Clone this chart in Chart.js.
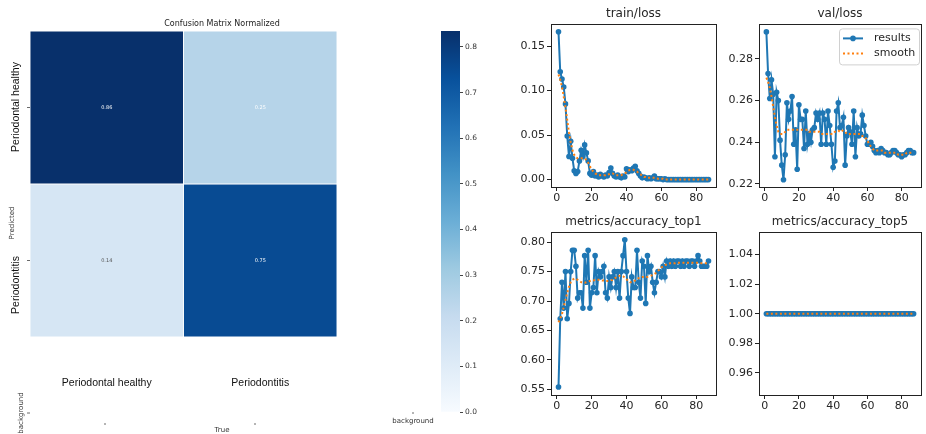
<!DOCTYPE html>
<html lang="en">
  <head>
    <meta charset="UTF-8" />
    <title>Training results</title>
    <script src="https://cdn.jsdelivr.net/npm/chart.js"></script>
    <style>
      html,
      body {
        margin: 0;
        padding: 0;
        background: #fff;
      }
      #wrap {
        position: relative;
        width: 926px;
        height: 434px;
        overflow: hidden;
      }
      canvas {
        position: absolute;
      }
    </style>
  </head>
  <body>
    <div id="wrap">
      <canvas id="cm" width="445" height="434" style="left:0;top:0"></canvas>
      <canvas id="cb" width="60" height="434" style="left:430px;top:0"></canvas>
      <canvas id="trainLoss" width="220" height="210" style="left:500px;top:0"></canvas>
      <canvas id="valLoss" width="218" height="210" style="left:708px;top:0"></canvas>
      <canvas id="top1" width="220" height="210" style="left:500px;top:208px"></canvas>
      <canvas id="top5" width="218" height="210" style="left:708px;top:208px"></canvas>
    </div>

    <script>
      // Confusion matrix (rows = predicted, columns = true)
      const predLabels = ["Periodontal healthy", "Periodontitis"];
      const trueLabels = ["Periodontal healthy", "Periodontitis"];
      const matrix = [
        [0.86, 0.25],
        [0.14, 0.75],
      ];
      const cbTicks = [0.0, 0.1, 0.2, 0.3, 0.4, 0.5, 0.6, 0.7, 0.8];
      const cbRange = [0, 0.835];

      // Training curves
      const epochs = [
        1, 2, 3, 4, 5, 6, 7, 8, 9, 10, 11, 12, 13, 14, 15, 16, 17, 18, 19, 20,
        21, 22, 23, 24, 25, 26, 27, 28, 29, 30, 31, 32, 33, 34, 35, 36, 37, 38, 39, 40,
        41, 42, 43, 44, 45, 46, 47, 48, 49, 50, 51, 52, 53, 54, 55, 56, 57, 58, 59, 60,
        61, 62, 63, 64, 65, 66, 67, 68, 69, 70, 71, 72, 73, 74, 75, 76, 77, 78, 79, 80,
        81, 82, 83, 84, 85, 86, 87,
      ];
      const xTicks = [0, 20, 40, 60, 80];

      const trainLoss = [
        0.166, 0.121, 0.113, 0.104, 0.085, 0.049, 0.026, 0.043, 0.024, 0.010,
        0.007, 0.009, 0.021, 0.033, 0.026, 0.039, 0.030, 0.021, 0.007, 0.005,
        0.009, 0.004, 0.005, 0.003, 0.006, 0.004, 0.003, 0.005, 0.004, 0.008,
        0.013, 0.007, 0.004, 0.003, 0.005, 0.003, 0.002, 0.004, 0.003, 0.012,
        0.009, 0.011, 0.010, 0.013, 0.015, 0.010, 0.007, 0.004, 0.002, 0.003,
        0.002, 0.001, 0.002, 0.001, 0.002, 0.004, 0.001, 0.001, 0.001, 0.001,
        0.000, 0.001, 0.000, 0.000, 0.000, 0.000, 0.000, 0.000, 0.000, 0.000,
        0.000, 0.000, 0.000, 0.000, 0.000, 0.000, 0.000, 0.000, 0.000, 0.000,
        0.000, 0.000, 0.000, 0.000, 0.000, 0.000, 0.000,
      ];
      const trainSmooth = [
        0.118, 0.112, 0.104, 0.093, 0.081, 0.067, 0.053, 0.042, 0.033, 0.028,
        0.025, 0.024, 0.024, 0.024, 0.024, 0.024, 0.022, 0.019, 0.015, 0.011,
        0.009, 0.007, 0.006, 0.005, 0.005, 0.005, 0.005, 0.005, 0.006, 0.006,
        0.007, 0.007, 0.006, 0.005, 0.005, 0.005, 0.005, 0.006, 0.007, 0.008,
        0.010, 0.011, 0.011, 0.011, 0.010, 0.009, 0.007, 0.006, 0.004, 0.003,
        0.003, 0.002, 0.002, 0.002, 0.002, 0.002, 0.002, 0.001, 0.001, 0.001,
        0.001, 0.000, 0.000, 0.000, 0.000, 0.000, 0.000, 0.000, 0.000, 0.000,
        0.000, 0.000, 0.000, 0.000, 0.000, 0.000, 0.000, 0.000, 0.000, 0.000,
        0.000, 0.000, 0.000, 0.000, 0.000, 0.000, 0.000,
      ];

      const valLoss = [
        0.293, 0.273, 0.261, 0.270, 0.263, 0.233, 0.264, 0.260, 0.241, 0.229,
        0.222, 0.234, 0.259, 0.251, 0.255, 0.262, 0.239, 0.246, 0.227, 0.258,
        0.251, 0.251, 0.237, 0.255, 0.239, 0.244, 0.240, 0.246, 0.247, 0.254,
        0.251, 0.254, 0.239, 0.254, 0.251, 0.239, 0.255, 0.248, 0.239, 0.228,
        0.231, 0.255, 0.259, 0.247, 0.248, 0.252, 0.229, 0.243, 0.247, 0.245,
        0.239, 0.255, 0.233, 0.247, 0.243, 0.244, 0.253, 0.248, 0.243, 0.239,
        0.239, 0.240, 0.238, 0.236, 0.235, 0.236, 0.235, 0.237, 0.236, 0.235,
        0.235, 0.234, 0.234, 0.235, 0.236, 0.236, 0.235, 0.234, 0.234, 0.233,
        0.234, 0.234, 0.235, 0.236, 0.236, 0.235, 0.235,
      ];
      const valSmooth = [
        0.271, 0.269, 0.266, 0.262, 0.257, 0.252, 0.248, 0.245, 0.244, 0.244,
        0.244, 0.245, 0.246, 0.246, 0.246, 0.246, 0.246, 0.246, 0.246, 0.246,
        0.246, 0.246, 0.246, 0.246, 0.246, 0.245, 0.245, 0.245, 0.245, 0.245,
        0.245, 0.245, 0.244, 0.244, 0.244, 0.244, 0.244, 0.244, 0.244, 0.244,
        0.245, 0.245, 0.245, 0.246, 0.246, 0.245, 0.245, 0.244, 0.244, 0.244,
        0.244, 0.244, 0.244, 0.244, 0.244, 0.244, 0.243, 0.243, 0.242, 0.241,
        0.239, 0.238, 0.237, 0.236, 0.236, 0.236, 0.236, 0.236, 0.236, 0.235,
        0.235, 0.235, 0.235, 0.235, 0.235, 0.235, 0.235, 0.234, 0.234, 0.234,
        0.234, 0.234, 0.235, 0.235, 0.235, 0.235, 0.235,
      ];

      const accTop1 = [
        0.554, 0.670, 0.732, 0.688, 0.750, 0.670, 0.696, 0.750, 0.786, 0.786,
        0.759, 0.705, 0.714, 0.714, 0.688, 0.777, 0.732, 0.786, 0.688, 0.714,
        0.723, 0.777, 0.714, 0.750, 0.741, 0.750, 0.759, 0.714, 0.705, 0.741,
        0.723, 0.741, 0.750, 0.723, 0.750, 0.705, 0.750, 0.777, 0.804, 0.750,
        0.705, 0.679, 0.741, 0.723, 0.723, 0.786, 0.732, 0.705, 0.768, 0.759,
        0.696, 0.777, 0.750, 0.759, 0.732, 0.714, 0.732, 0.750, 0.750, 0.741,
        0.759, 0.741, 0.768, 0.759, 0.768, 0.759, 0.768, 0.759, 0.768, 0.768,
        0.759, 0.768, 0.759, 0.768, 0.768, 0.759, 0.768, 0.768, 0.759, 0.768,
        0.777, 0.768, 0.759, 0.759, 0.759, 0.759, 0.768,
      ];
      const top1Smooth = [
        0.664, 0.670, 0.678, 0.690, 0.702, 0.714, 0.724, 0.732, 0.736, 0.738,
        0.738, 0.736, 0.734, 0.732, 0.731, 0.731, 0.732, 0.733, 0.734, 0.735,
        0.735, 0.736, 0.736, 0.736, 0.736, 0.735, 0.735, 0.734, 0.734, 0.734,
        0.735, 0.736, 0.738, 0.740, 0.742, 0.743, 0.743, 0.742, 0.740, 0.737,
        0.734, 0.732, 0.732, 0.733, 0.735, 0.737, 0.739, 0.740, 0.741, 0.741,
        0.741, 0.741, 0.742, 0.743, 0.744, 0.746, 0.748, 0.751, 0.754, 0.757,
        0.759, 0.761, 0.762, 0.763, 0.764, 0.764, 0.764, 0.764, 0.765, 0.765,
        0.765, 0.765, 0.765, 0.765, 0.765, 0.765, 0.765, 0.765, 0.765, 0.765,
        0.765, 0.765, 0.764, 0.764, 0.764, 0.764, 0.764,
      ];

      const accTop5 = [
        1.0, 1.0, 1.0, 1.0, 1.0, 1.0, 1.0, 1.0, 1.0, 1.0,
        1.0, 1.0, 1.0, 1.0, 1.0, 1.0, 1.0, 1.0, 1.0, 1.0,
        1.0, 1.0, 1.0, 1.0, 1.0, 1.0, 1.0, 1.0, 1.0, 1.0,
        1.0, 1.0, 1.0, 1.0, 1.0, 1.0, 1.0, 1.0, 1.0, 1.0,
        1.0, 1.0, 1.0, 1.0, 1.0, 1.0, 1.0, 1.0, 1.0, 1.0,
        1.0, 1.0, 1.0, 1.0, 1.0, 1.0, 1.0, 1.0, 1.0, 1.0,
        1.0, 1.0, 1.0, 1.0, 1.0, 1.0, 1.0, 1.0, 1.0, 1.0,
        1.0, 1.0, 1.0, 1.0, 1.0, 1.0, 1.0, 1.0, 1.0, 1.0,
        1.0, 1.0, 1.0, 1.0, 1.0, 1.0, 1.0,
      ];
      const top5Smooth = [
        1.0, 1.0, 1.0, 1.0, 1.0, 1.0, 1.0, 1.0, 1.0, 1.0,
        1.0, 1.0, 1.0, 1.0, 1.0, 1.0, 1.0, 1.0, 1.0, 1.0,
        1.0, 1.0, 1.0, 1.0, 1.0, 1.0, 1.0, 1.0, 1.0, 1.0,
        1.0, 1.0, 1.0, 1.0, 1.0, 1.0, 1.0, 1.0, 1.0, 1.0,
        1.0, 1.0, 1.0, 1.0, 1.0, 1.0, 1.0, 1.0, 1.0, 1.0,
        1.0, 1.0, 1.0, 1.0, 1.0, 1.0, 1.0, 1.0, 1.0, 1.0,
        1.0, 1.0, 1.0, 1.0, 1.0, 1.0, 1.0, 1.0, 1.0, 1.0,
        1.0, 1.0, 1.0, 1.0, 1.0, 1.0, 1.0, 1.0, 1.0, 1.0,
        1.0, 1.0, 1.0, 1.0, 1.0, 1.0, 1.0,
      ];

      Chart.defaults.font.family = "DejaVu Sans";
      Chart.defaults.color = "#262626";

      // matplotlib "Blues" colormap
      const bluesStops = ["#f7fbff", "#deebf7", "#c6dbef", "#9ecae1", "#6baed6", "#4292c6", "#2171b5", "#08519c", "#08306b"];
      function hexRgb(h) {
        return [1, 3, 5].map((i) => parseInt(h.substr(i, 2), 16));
      }
      function blues(t) {
        t = Math.max(0, Math.min(1, t));
        const p = t * (bluesStops.length - 1);
        const i = Math.min(Math.floor(p), bluesStops.length - 2);
        const f = p - i;
        const a = hexRgb(bluesStops[i]);
        const b = hexRgb(bluesStops[i + 1]);
        const c = a.map((v, k) => Math.round(v + (b[k] - v) * f));
        return "rgb(" + c.join(",") + ")";
      }

      // ---- Confusion matrix ----
      const cmText = {
        id: "cmText",
        afterDraw(chart) {
          const ctx = chart.ctx;
          const yS = chart.scales.y;
          ctx.save();
          ctx.fillStyle = "#222";
          ctx.textAlign = "center";
          ctx.textBaseline = "middle";
          ctx.font = "8px 'DejaVu Sans'";
          ctx.fillText("Confusion Matrix Normalized", 222, 24);

          // cell values
          ctx.font = "5px 'DejaVu Sans'";
          matrix.forEach((row, r) => {
            const meta = chart.getDatasetMeta(r);
            row.forEach((v, c) => {
              const p = meta.data[c].getCenterPoint();
              ctx.fillStyle = v >= 0.2 ? "#fff" : "#555";
              ctx.fillText(v.toFixed(2), p.x, p.y);
            });
          });

          // row labels (rotated)
          const rowLabelY = [107, 285];
          ctx.fillStyle = "#111";
          ctx.font = "10.5px 'Liberation Sans'";
          predLabels.forEach((lab, r) => {
            ctx.save();
            ctx.translate(16, rowLabelY[r]);
            ctx.rotate(-Math.PI / 2);
            ctx.fillText(lab, 0, 0);
            ctx.restore();
          });
          ctx.font = "7px 'DejaVu Sans'";
          ctx.fillStyle = "#333";
          [["Predicted", 12, 223], ["background", 21, 413]].forEach(([t, x, y]) => {
            ctx.save();
            ctx.translate(x, y);
            ctx.rotate(-Math.PI / 2);
            ctx.fillText(t, 0, 0);
            ctx.restore();
          });
          ctx.fillText("True", 222, 430);
          ctx.fillText("background", 413, 421);

          // small tick marks
          ctx.strokeStyle = "#444";
          ctx.lineWidth = 0.8;
          ctx.beginPath();
          predLabels.forEach((lab, r) => {
            const y = yS.getPixelForValue(r + 0.5);
            ctx.moveTo(27, y);
            ctx.lineTo(30, y);
          });
          ctx.moveTo(27, 413);
          ctx.lineTo(30, 413);
          [105, 255].forEach((x) => {
            ctx.moveTo(x - 1, 424);
            ctx.lineTo(x + 1, 424);
          });
          ctx.moveTo(412, 413);
          ctx.lineTo(414, 413);
          ctx.stroke();
          ctx.restore();
        },
      };

      new Chart(document.getElementById("cm"), {
        type: "bar",
        data: {
          labels: trueLabels,
          datasets: predLabels.map((p, r) => ({
            label: p,
            data: matrix[r].map(() => [r, r + 1]),
            backgroundColor: matrix[r].map((v) => blues(v / cbRange[1])),
            borderColor: "#fff",
            borderWidth: 0.8,
            borderSkipped: false,
            grouped: false,
            barPercentage: 1,
            categoryPercentage: 1,
          })),
        },
        options: {
          responsive: false,
          animation: false,
          layout: { padding: { left: 30, top: 31, right: 108, bottom: 0 } },
          scales: {
            x: {
              grid: { display: false, drawTicks: false },
              border: { display: false },
              ticks: { padding: 40, color: "#111", font: { family: "Liberation Sans", size: 10.5 } },
              afterFit: (s) => {
                s.height = 97;
              },
            },
            y: { display: false, reverse: true, min: 0, max: 2 },
          },
          plugins: { legend: { display: false }, tooltip: { enabled: false } },
        },
        plugins: [cmText],
      });

      // ---- Colour bar ----
      new Chart(document.getElementById("cb"), {
        type: "bar",
        data: {
          labels: [""],
          datasets: [
            {
              data: [[cbRange[0], cbRange[1]]],
              backgroundColor: (c) => {
                const a = c.chart.chartArea;
                if (!a) return bluesStops[4];
                const g = c.chart.ctx.createLinearGradient(0, a.bottom, 0, a.top);
                bluesStops.forEach((col, i) => g.addColorStop(i / (bluesStops.length - 1), col));
                return g;
              },
              borderWidth: 0,
              barPercentage: 1,
              categoryPercentage: 1,
            },
          ],
        },
        options: {
          responsive: false,
          animation: false,
          layout: { padding: { left: 11, top: 31, bottom: 22, right: 0 } },
          scales: {
            x: { display: false },
            y: {
              position: "right",
              min: cbRange[0],
              max: cbRange[1],
              afterBuildTicks: (s) => {
                s.ticks = cbTicks.map((v) => ({ value: v }));
              },
              afterFit: (s) => {
                s.width = 30;
              },
              grid: { drawOnChartArea: false, tickLength: 3, color: "#444" },
              border: { display: false },
              ticks: { padding: 2, color: "#333", font: { size: 7.5 }, callback: (v) => v.toFixed(1) },
            },
          },
          plugins: { legend: { display: false }, tooltip: { enabled: false } },
        },
      });

      // ---- Line plots ----
      const frame = {
        id: "frame",
        afterDatasetsDraw(chart) {
          const a = chart.chartArea;
          const ctx = chart.ctx;
          ctx.save();
          ctx.strokeStyle = "#222";
          ctx.lineWidth = 1;
          ctx.strokeRect(Math.round(a.left) + 0.5, Math.round(a.top) + 0.5, Math.round(a.right - a.left), Math.round(a.bottom - a.top));
          ctx.restore();
        },
      };

      const legendBox = {
        id: "legendBox",
        afterDraw(chart) {
          const a = chart.chartArea;
          const ctx = chart.ctx;
          const w = 80, h = 36;
          const x0 = a.right - w - 2, y0 = a.top + 4;
          ctx.save();
          ctx.fillStyle = "rgba(255,255,255,0.8)";
          ctx.strokeStyle = "#d0d0d0";
          ctx.lineWidth = 1;
          ctx.beginPath();
          ctx.roundRect(x0 + 0.5, y0 + 0.5, w, h, 3);
          ctx.fill();
          ctx.stroke();
          chart.data.datasets.forEach((ds, i) => {
            const y = y0 + 10 + i * 15;
            ctx.strokeStyle = ds.borderColor;
            ctx.lineWidth = ds.borderWidth;
            ctx.setLineDash(ds.borderDash || []);
            ctx.beginPath();
            ctx.moveTo(x0 + 4, y);
            ctx.lineTo(x0 + 24, y);
            ctx.stroke();
            ctx.setLineDash([]);
            if (ds.pointRadius > 0) {
              ctx.fillStyle = ds.backgroundColor;
              ctx.beginPath();
              ctx.arc(x0 + 14, y, ds.pointRadius, 0, Math.PI * 2);
              ctx.fill();
            }
            ctx.fillStyle = "#262626";
            ctx.font = "11px 'DejaVu Sans'";
            ctx.textBaseline = "middle";
            ctx.fillText(ds.label, x0 + 35, y);
          });
          ctx.restore();
        },
      };

      function curveChart(id, title, raw, smooth, yMin, yMax, yTicks, padRight, withLegend) {
        new Chart(document.getElementById(id), {
          type: "line",
          data: {
            labels: epochs,
            datasets: [
              {
                label: "results",
                data: raw,
                borderColor: "#1f77b4",
                backgroundColor: "#1f77b4",
                borderWidth: 2,
                pointRadius: 2.8,
                pointBorderWidth: 0,
                order: 2,
              },
              {
                label: "smooth",
                data: smooth,
                borderColor: "#ff7f0e",
                borderWidth: 2,
                borderDash: [2, 2.5],
                pointRadius: 0,
                order: 1,
              },
            ],
          },
          options: {
            responsive: false,
            animation: false,
            layout: { padding: { left: 0, right: padRight, top: 0, bottom: 0 } },
            scales: {
              x: {
                type: "linear",
                min: -3.3,
                max: 91.3,
                afterBuildTicks: (s) => {
                  s.ticks = xTicks.map((v) => ({ value: v }));
                },
                afterFit: (s) => {
                  s.height = 23;
                },
                grid: { drawOnChartArea: false, tickLength: 4, color: "#222" },
                border: { display: false },
                ticks: { padding: 1, font: { size: 11 }, callback: (v) => String(v) },
              },
              y: {
                min: yMin,
                max: yMax,
                afterBuildTicks: (s) => {
                  s.ticks = yTicks.map((v) => ({ value: v }));
                },
                afterFit: (s) => {
                  s.width = 51;
                },
                grid: { drawOnChartArea: false, tickLength: 4, color: "#222" },
                border: { display: false },
                ticks: { padding: 2, font: { size: 11 }, callback: (v) => v.toFixed(2) },
              },
            },
            plugins: {
              legend: { display: false },
              tooltip: { enabled: false },
              title: {
                display: true,
                text: title,
                fullSize: false,
                color: "#262626",
                font: { size: 12, weight: "normal" },
                padding: { top: 7, bottom: 3 },
              },
            },
          },
          plugins: withLegend ? [frame, legendBox] : [frame],
        });
      }

      curveChart("trainLoss", "train/loss", trainLoss, trainSmooth, -0.0083, 0.1743, [0.0, 0.05, 0.1, 0.15], 4, false);
      curveChart("valLoss", "val/loss", valLoss, valSmooth, 0.2185, 0.2966, [0.22, 0.24, 0.26, 0.28], 5, true);
      curveChart("top1", "metrics/accuracy_top1", accTop1, top1Smooth, 0.5405, 0.8165, [0.55, 0.6, 0.65, 0.7, 0.75, 0.8], 4, false);
      curveChart("top5", "metrics/accuracy_top5", accTop5, top5Smooth, 0.945, 1.055, [0.96, 0.98, 1.0, 1.02, 1.04], 5, false);
    </script>
  </body>
</html>
